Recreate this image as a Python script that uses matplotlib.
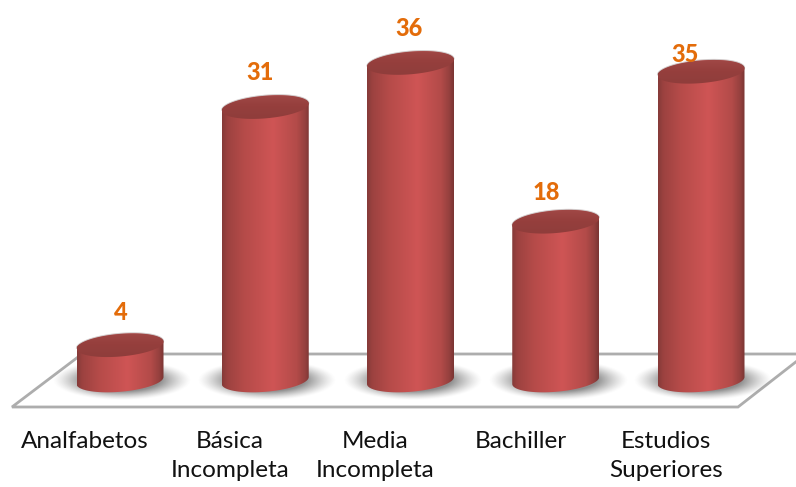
import numpy as np
import matplotlib
matplotlib.use('Agg')
import matplotlib.pyplot as plt
from matplotlib.colors import LinearSegmentedColormap
from matplotlib.patches import Polygon

categories = ['Analfabetos', 'Básica\nIncompleta', 'Media\nIncompleta', 'Bachiller', 'Estudios\nSuperiores']
values = [4, 31, 36, 18, 35]

# value label offsets, in pixels from the top of each cylinder
label_dx = [1, -5, -2, -9, -16]
label_dy = [33, 35, 34, 29, 17]

plt.rcParams['font.family'] = ['Lato', 'DejaVu Sans']

# pixel scale of the picture
W, H = 796, 487
px_x = 145.25   # pixels per category
px_y = 8.82     # pixels per value unit
x0, y0 = 120, 380.5  # pixel position of category 0, value 0

fig = plt.figure(figsize=(W / 100, H / 100), dpi=100)
ax = fig.add_axes([0, 0, 1, 1])
xlim = (-x0 / px_x, (W - x0) / px_x)
ylim = (-(H - y0) / px_y, y0 / px_y)


def dx(p):
    return p / px_x


def dy(p):
    return p / px_y


half_w = dx(43.5)
half_h = dy(11.3)
tilt = dy(3.5)

body_cmap = LinearSegmentedColormap.from_list('body', [
    (0, '#853a38'), (0.06, '#9c4240'), (0.25, '#b54b49'), (0.58, '#cf5555'),
    (0.85, '#b34b49'), (0.95, '#94403e'), (1, '#7a3533')])
top_cmap = LinearSegmentedColormap.from_list('top', [
    (0, '#a34b49'), (0.45, '#963f3d'), (1, '#8d3d3b')])


def ellipse(cx, cy, t):
    return np.column_stack([cx + half_w * np.cos(t),
                            cy + half_h * np.sin(t) + tilt * np.cos(t)])


# floor
floor_x = np.array([12, 738, 806, 82])
floor_y = np.array([407, 407, 354, 354])
ax.add_patch(Polygon(np.column_stack([(floor_x - x0) / px_x, (y0 - floor_y) / px_y]),
                     closed=True, facecolor='white', edgecolor='#adadad', linewidth=2.0, zorder=1))

# soft shadows under the cylinders
xs = np.linspace(-1.4, 1.4, 200)
ys = np.linspace(-1.4, 1.4, 120)
xx, yy = np.meshgrid(xs, ys)
rr = np.sqrt(xx ** 2 + yy ** 2)
alpha = np.clip((1.35 - rr) / 0.6, 0, 1) ** 1.3 * 0.8
shadow = np.zeros(xx.shape + (4,))
shadow[..., :3] = 0.45
shadow[..., 3] = alpha

for i, v in enumerate(values):
    ax.imshow(shadow, extent=(i + dx(2) - dx(72), i + dx(2) + dx(72), -dy(21), dy(21)),
              origin='lower', aspect='auto', zorder=2, interpolation='bilinear')

    t_low = np.linspace(np.pi, 2 * np.pi, 80)
    t_up = np.linspace(0, np.pi, 80)
    body = np.vstack([ellipse(i, 0, t_low), ellipse(i, v, t_up)])
    clip = Polygon(body, closed=True, transform=ax.transData, facecolor='none', edgecolor='none')
    ax.add_patch(clip)
    grad = np.linspace(0, 1, 256).reshape(1, -1)
    im = ax.imshow(grad, cmap=body_cmap, extent=(i - half_w, i + half_w, -dy(20), v + dy(20)),
                   aspect='auto', zorder=3)
    im.set_clip_path(clip)
    # thin pale rim on the top
    ax.plot(*ellipse(i, v + dy(0.5), np.linspace(0, np.pi, 60)).T, color='#a09090', lw=0.8, alpha=0.5, zorder=3)

    top = ellipse(i, v, np.linspace(0, 2 * np.pi, 160))
    clip2 = Polygon(top, closed=True, transform=ax.transData, facecolor='none', edgecolor='none')
    ax.add_patch(clip2)
    im2 = ax.imshow(np.linspace(0, 1, 64).reshape(-1, 1), cmap=top_cmap, origin='upper',
                    extent=(i - half_w, i + half_w, v - dy(16), v + dy(16)), aspect='auto', zorder=4)
    im2.set_clip_path(clip2)

    ax.annotate(str(v), (i, v), xytext=(label_dx[i] * 0.72, label_dy[i] * 0.72), textcoords='offset points',
                ha='center', va='center', fontsize=17, fontweight='black', color='#E36C0A', zorder=6)

# category labels sit to the left of the bars
for i, c in enumerate(categories):
    label_y = 456 if '\n' in c else 441
    ax.text(i - dx(35), (y0 - label_y) / px_y, c, ha='center', va='center',
            fontsize=17.5, color='#111111', zorder=6, linespacing=1.5)

ax.set_xlim(xlim)
ax.set_ylim(ylim)
ax.axis('off')
fig.savefig('out.png', dpi=100)
